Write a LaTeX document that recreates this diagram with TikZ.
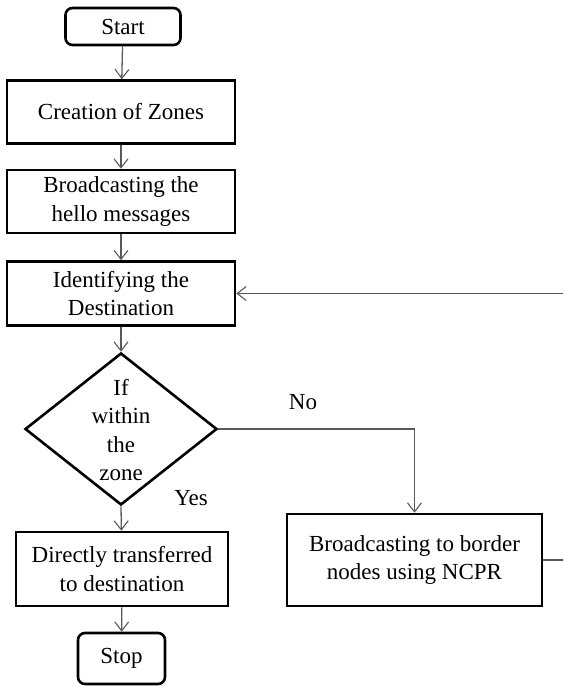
\documentclass[tikz,border=0pt]{standalone}
\usepackage{fontspec}
\setmainfont{Liberation Serif}
\usetikzlibrary{shapes.geometric,arrows.meta}
\begin{document}
\begin{tikzpicture}[x=1pt,y=-1pt,
  box/.style={draw=black,line width=2.6pt,rectangle,inner sep=0pt,align=center,font=\fontsize{23}{28.5}\selectfont},
  term/.style={box,rounded corners=7pt},
  conn/.style={draw=black!65,line width=1.3pt,-{Straight Barb[length=9pt,width=14pt,line width=1.1pt]}},
  lbl/.style={font=\fontsize{23}{28.5}\selectfont,inner sep=0pt}]
\useasboundingbox (0,0) rectangle (563,686);
\clip (0,0) rectangle (563,686);
\node[term,minimum width=115pt,minimum height=37pt] (start) at (123,26.5) {Start};
\node[box,minimum width=228pt,minimum height=63pt] (cz) at (121,112) {Creation of Zones};
\node[box,minimum width=228pt,minimum height=63pt] (bh) at (121,201.5) {Broadcasting the\\hello messages};
\node[box,minimum width=228pt,minimum height=64pt] (id) at (121,293.5) {Identifying the\\Destination};
\node[draw=black,line width=2.6pt,diamond,inner sep=0pt,minimum width=192pt,minimum height=152pt] (dia) at (121,429) {};
\node[lbl,align=center] (dtext) at (121,430) {If\\within\\the\\zone};
\node[box,minimum width=212pt,minimum height=74pt] (dt) at (122,569) {Directly transferred\\to destination};
\node[term,minimum width=87pt,minimum height=51pt] (stop) at (121.5,658.5) {Stop};
\node[box,minimum width=255pt,minimum height=92pt] (ncpr) at (414.5,560) {Broadcasting to border\\nodes using NCPR};
\node[lbl] (no) at (303,402) {No};
\node[lbl] (yes) at (191,498) {Yes};
\coordinate (rr) at (590,560);
\draw[conn] (start) -- (cz);
\draw[conn] (cz) -- (bh);
\draw[conn] (bh) -- (id);
\draw[conn] (id) -- (dia.north);
\draw[conn] (dia.south) -- (dt);
\draw[conn] (dt) -- (stop);
\draw[conn] (dia.east) -| (ncpr.north);
\draw[conn] (ncpr.east) -- (rr) |- (id.east);
\end{tikzpicture}
\end{document}
